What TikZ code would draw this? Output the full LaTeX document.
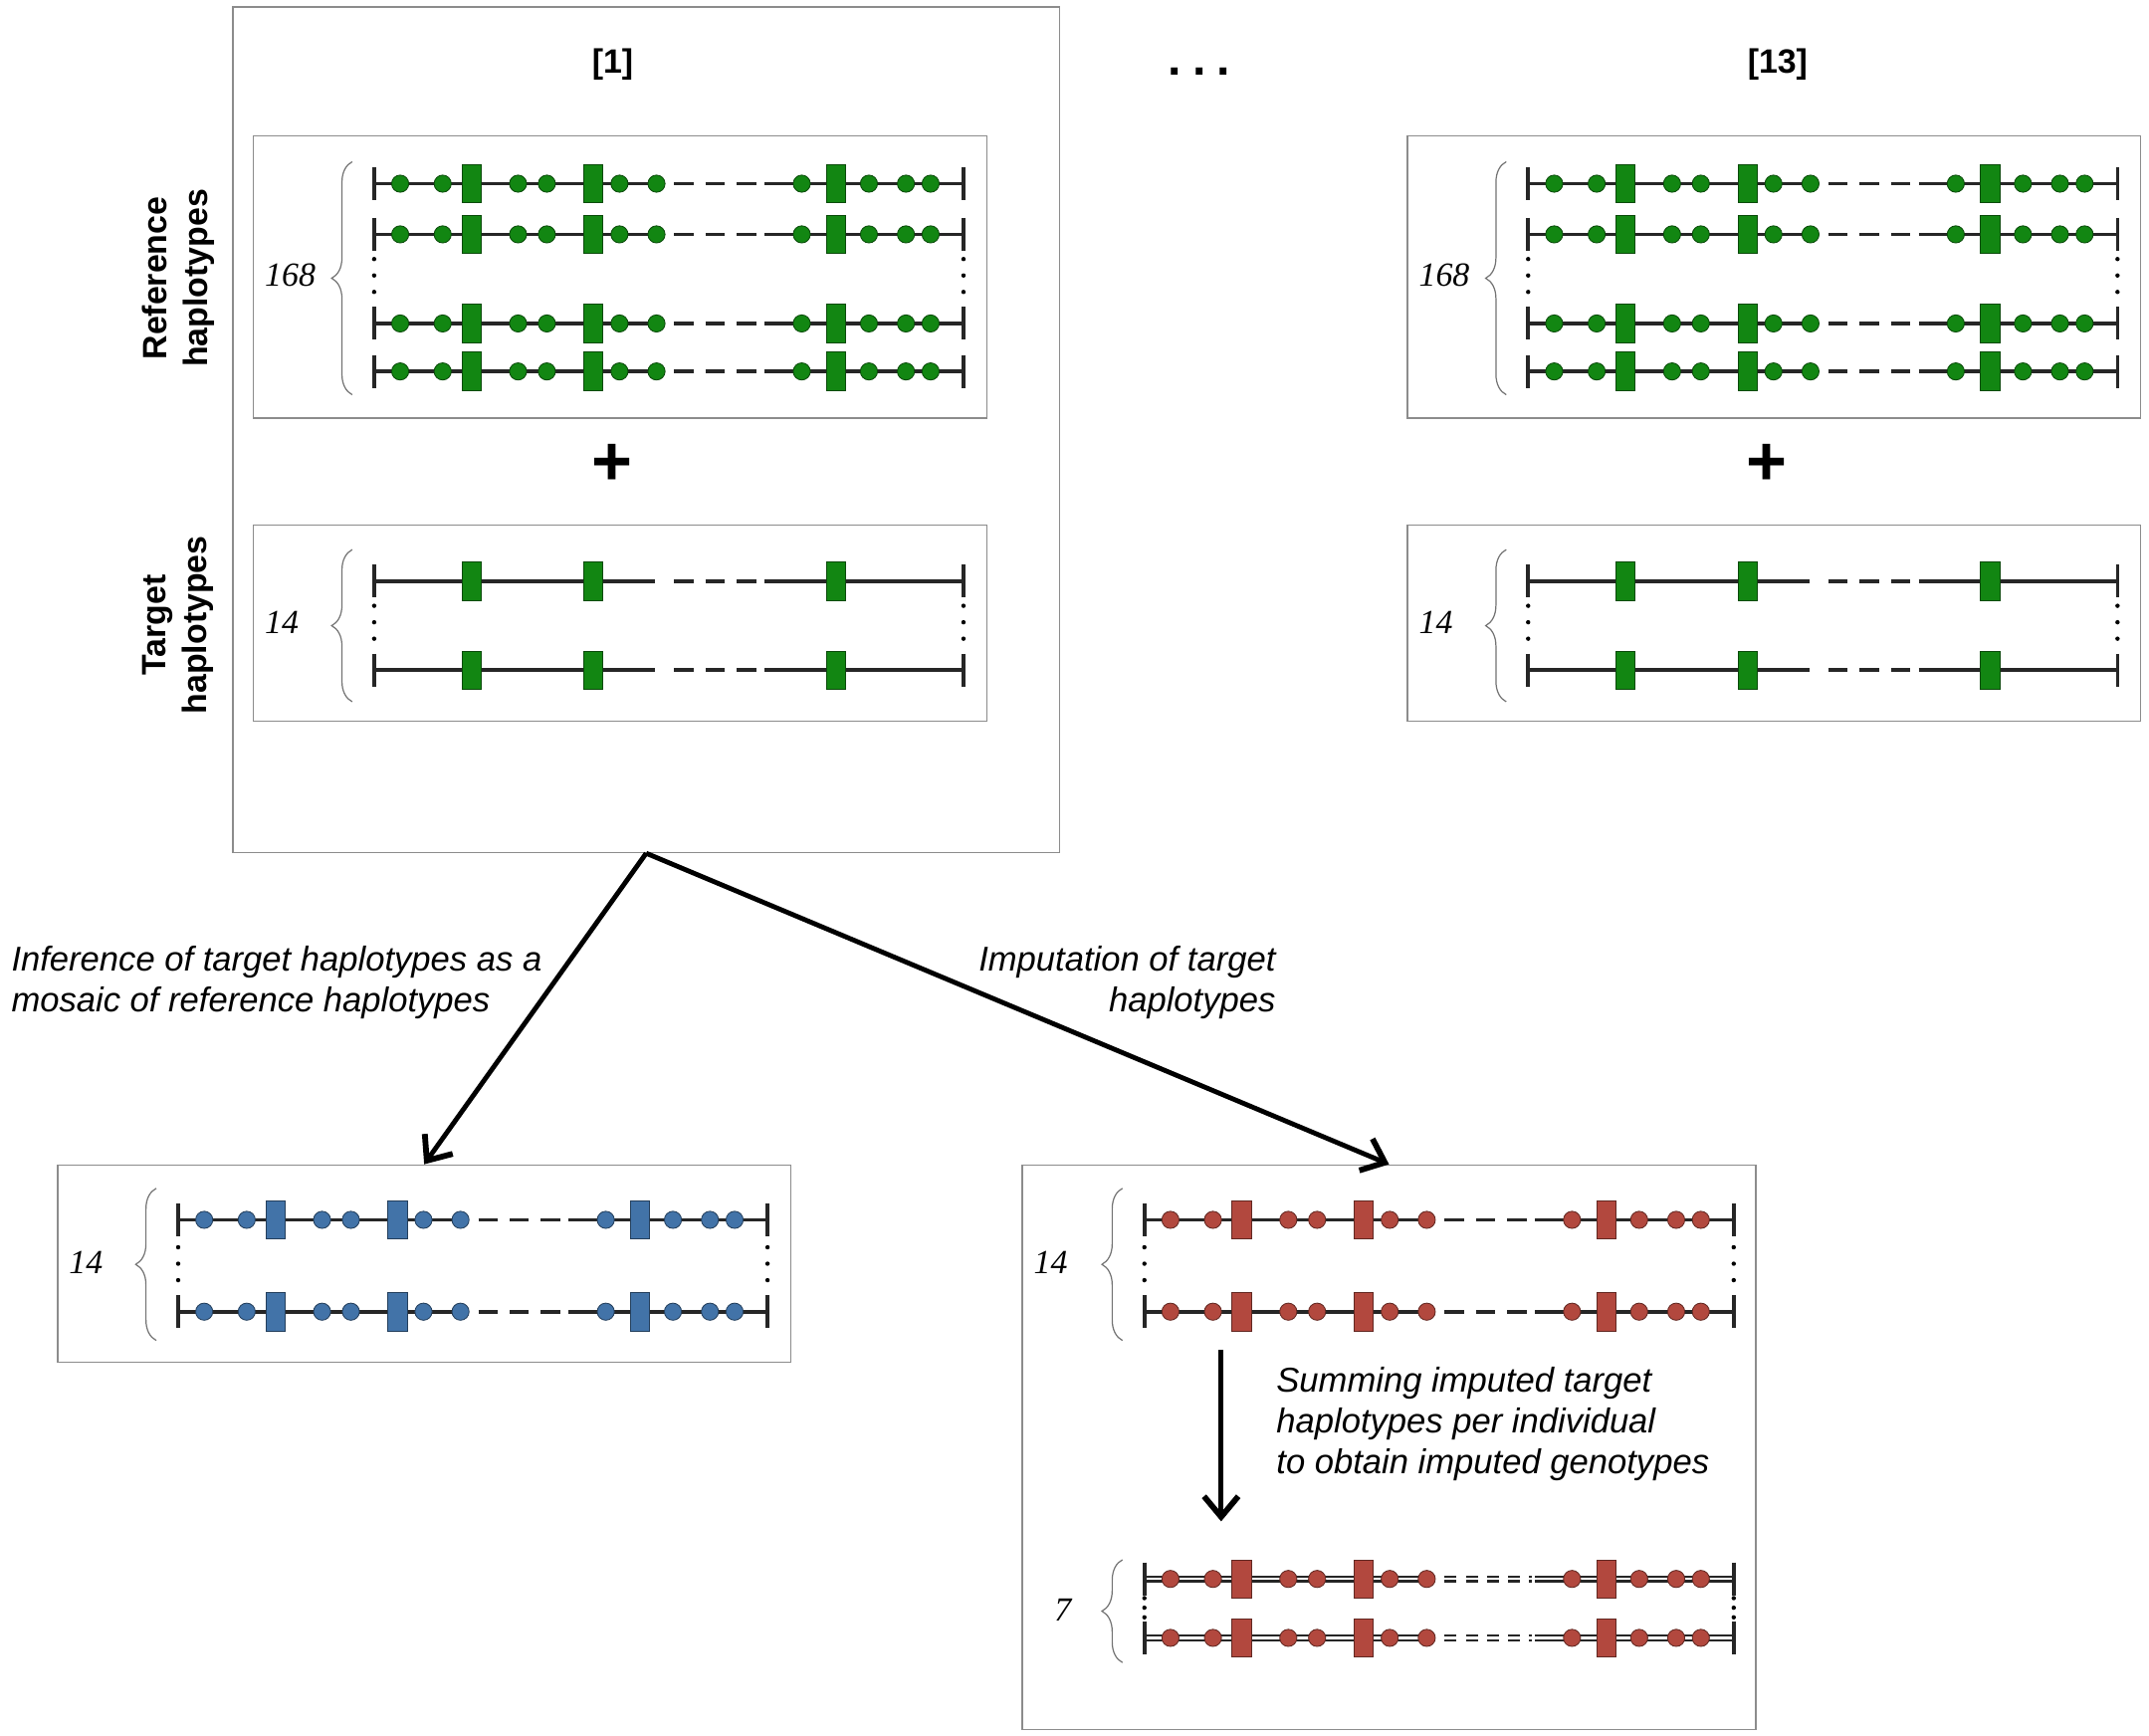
\documentclass[tikz,border=0pt]{standalone}
\usepackage{fontspec}
\setmainfont{Liberation Sans}
\newfontfamily\countfont{Liberation Serif}
\usetikzlibrary{arrows.meta,decorations.pathreplacing}

\definecolor{refgreen}{RGB}{18,134,18}
\definecolor{mosblue}{RGB}{66,115,168}
\definecolor{impred}{RGB}{178,72,62}

\newcommand{\haprow}[4]{%
  \draw[#3] (#1,#2) -- ++(205,0) (#1+285,#2) -- ++(145,0);
  \draw[#3,#4] (#1+219,#2) -- ++(64,0);
  \draw[endtick] (#1,#2-12) -- ++(0,24) (#1+430,#2-12) -- ++(0,24);
}
\newcommand{\snpsq}[3]{%
  \foreach \sx in {71,160,337}
    \filldraw[snp=#3] (#1+\sx-7,#2-14) rectangle (#1+\sx+7,#2+14);
}
\newcommand{\snpdot}[3]{%
  \foreach \sx in {19,50,105,126,179,206,312,361,388,406}
    \filldraw[snp=#3] (#1+\sx,#2) circle [radius=1.25mm];
}
\newcommand{\hapdots}[3]{%
  \foreach \sg in {-1,0,1}
    \fill (#1,#2+\sg*#3) circle [radius=0.32mm] (#1+430,#2+\sg*#3) circle [radius=0.32mm];
}

\begin{document}
\begin{tikzpicture}[x=0.2mm,y=-0.2mm,
  box/.style={draw=black!45,line width=0.6pt,fill=white,inner sep=0pt,minimum width=107mm},
  hapline/.style={line width=1.6pt,draw=black!85},
  hapdouble/.style={line width=1pt,draw=black!85,double=white,double distance=1pt},
  gapdash/.style={dash pattern=on 8pt off 5pt},
  gapdash2/.style={dash pattern=on 5pt off 3.8pt},
  endtick/.style={line width=1.5pt,draw=black!85},
  snp/.style={fill=#1,draw=#1!55!black,line width=0.35pt},
  countbrace/.style={decorate,decoration={brace,amplitude=3mm},draw=black!55,line width=0.5pt},
  count/.style={font=\countfont\itshape\fontsize{14}{17}\selectfont,anchor=west,inner sep=0pt},
  head/.style={font=\bfseries\fontsize{14}{17}\selectfont},
  side/.style={font=\bfseries\fontsize{14}{17}\selectfont,align=center,rotate=90},
  plus/.style={font=\bfseries\fontsize{29}{29}\selectfont},
  note/.style={font=\itshape\fontsize{14.3}{17}\selectfont,inner sep=0pt},
  flow/.style={line width=2pt,draw=black,-{Straight Barb[length=3mm,width=5mm,line width=2.4pt]}}]
  \useasboundingbox (0,0) rectangle (1568,1266);

  \node[box,minimum width=120.6mm,minimum height=123.4mm] (big1) at (471.5,313.5) {};
  \node[head] (lab1) at (447,47) {[1]};
  \node[head] (lab13) at (1297,47) {[13]};
  \node[font=\bfseries\fontsize{20}{20}\selectfont] (more) at (875,52) {.\hspace{4.5pt}.\hspace{4.5pt}.};
  \node[side] (refside) at (130,203) {Reference\\haplotypes};
  \node[side] (tgtside) at (130,456) {Target\\haplotypes};

  \foreach \off/\n in {0/1,842/13} {
    \node[box,minimum height=41.2mm] (ref\n) at (452.5+\off,202) {};
    \node[box,minimum height=28.6mm] (tgt\n) at (452.5+\off,454.5) {};
    \node[plus] (plus\n) at (447+\off,339) {+};
    \foreach \y in {134,171,236,271} {
      \haprow{273+\off}{\y}{hapline}{gapdash}
      \snpdot{273+\off}{\y}{refgreen}
      \snpsq{273+\off}{\y}{refgreen}
    }
    \hapdots{273+\off}{201}{12}
    \draw[countbrace] (257+\off,288) -- (257+\off,118);
    \node[count] (refn\n) at (193+\off,201) {168};
    \foreach \y in {424,489} {
      \haprow{273+\off}{\y}{hapline}{gapdash}
      \snpsq{273+\off}{\y}{refgreen}
    }
    \hapdots{273+\off}{454}{12}
    \draw[countbrace] (257+\off,512) -- (257+\off,401);
    \node[count] (tgtn\n) at (193+\off,454) {14};
  }

  \node[box,minimum height=28.8mm] (mosaic) at (309.5,922) {};
  \foreach \y in {890,957} {
    \haprow{130}{\y}{hapline}{gapdash}
    \snpdot{130}{\y}{mosblue}
    \snpsq{130}{\y}{mosblue}
  }
  \hapdots{130}{922}{12}
  \draw[countbrace] (114,978) -- (114,867);
  \node[count] (mosn) at (50,921) {14};

  \node[box,minimum height=82.4mm] (imputed) at (1013.5,1056) {};
  \foreach \y in {890,957} {
    \haprow{835}{\y}{hapline}{gapdash}
    \snpdot{835}{\y}{impred}
    \snpsq{835}{\y}{impred}
  }
  \hapdots{835}{922}{12}
  \draw[countbrace] (819,978) -- (819,867);
  \node[count] (impn) at (754,921) {14};
  \foreach \y in {1152,1195} {
    \haprow{835}{\y}{hapdouble}{gapdash2}
    \snpdot{835}{\y}{impred}
    \snpsq{835}{\y}{impred}
  }
  \hapdots{835}{1173}{7}
  \draw[countbrace] (819,1213) -- (819,1138);
  \node[count] (genon) at (769,1175) {7};

  \draw[flow] (big1.south) -- (mosaic.north);
  \draw[flow] (big1.south) -- (imputed.north);
  \node[note,anchor=west,align=left] (infer) at (8,717) {Inference of target haplotypes as a\\mosaic of reference haplotypes};
  \node[note,anchor=east,align=right] (imput) at (931,717) {Imputation of target\\haplotypes};

  \coordinate (sumfrom) at (891,985);
  \coordinate (sumto) at (891,1110);
  \draw[flow] (sumfrom) -- (sumto);
  \node[note,anchor=west,align=left] (summing) at (931,1039) {Summing imputed target\\haplotypes per individual\\to obtain imputed genotypes};
\end{tikzpicture}
\end{document}
